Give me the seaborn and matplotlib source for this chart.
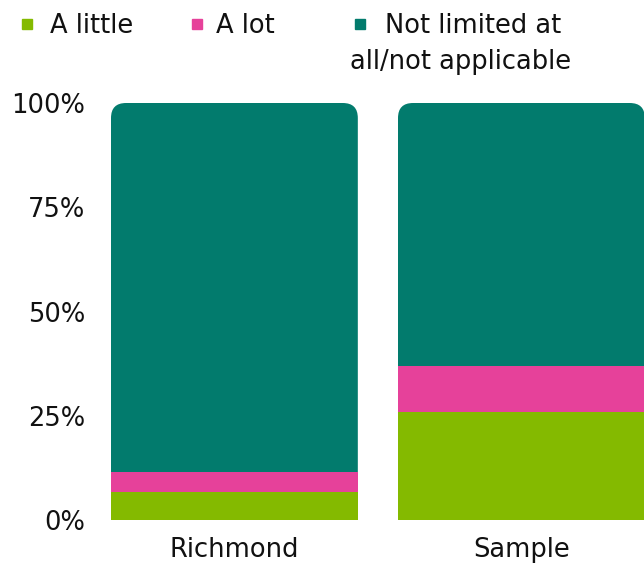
import matplotlib
matplotlib.use("Agg")
import matplotlib.pyplot as plt
import seaborn as sns
import pandas as pd
from matplotlib.patches import FancyBboxPatch
from matplotlib.transforms import IdentityTransform
from matplotlib.lines import Line2D

categories = ["Richmond", "Sample"]
a_little = [6.6, 25.8]
a_lot = [4.9, 11.2]
not_limited = [88.5, 63.0]
series_names = ["A little", "A lot", "Not limited at all/not applicable"]
colors = ["#84BA00", "#E6419A", "#027B6D"]
ytick_vals = [0, 25, 50, 75, 100]
ytick_labels = ["0%", "25%", "50%", "75%", "100%"]

sns.set_theme(style="white")
plt.rcParams["font.family"] = ["DejaVu Sans"]
FS = 18.5
TXT = "#111111"

df = pd.DataFrame({
    "cat": categories,
    "little": a_little,
    "lot": a_lot,
    "notlim": not_limited,
})
df["cum_lot"] = df["little"] + df["lot"]
df["cum_all"] = df["cum_lot"] + df["notlim"]

fig = plt.figure(figsize=(6.44, 5.65), dpi=100)
ax = fig.add_axes([111 / 644, 45 / 565, 1 - 111 / 644, 417 / 565])

W = 0.86
sns.barplot(data=df, x="cat", y="cum_all", color=colors[2], width=W, ax=ax,
            saturation=1, linewidth=0)
top_patches = list(ax.patches)
sns.barplot(data=df, x="cat", y="cum_lot", color=colors[1], width=W, ax=ax,
            saturation=1, linewidth=0)
sns.barplot(data=df, x="cat", y="little", color=colors[0], width=W, ax=ax,
            saturation=1, linewidth=0)

ax.set_xlim(-W / 2, -W / 2 + 533 / 287)
ax.set_ylim(0, 100)
ax.set_yticks(ytick_vals)
ax.set_yticklabels(ytick_labels)
ax.set_xlabel("")
ax.set_ylabel("")
for s in ax.spines.values():
    s.set_visible(False)
ax.tick_params(axis="y", length=0, pad=18.5, labelsize=FS, labelcolor=TXT)
ax.tick_params(axis="x", length=0, pad=12, labelsize=FS, labelcolor=TXT)

# rounded top corners
fig.canvas.draw()
r = 15
for p in top_patches:
    bb = p.get_window_extent()
    clip = FancyBboxPatch((bb.x0, bb.y0 - 3 * r), bb.width, bb.height + 3 * r,
                          boxstyle=f"round,pad=0,rounding_size={r}",
                          transform=IdentityTransform())
    p.set_clip_path(clip)

# legend: one entry per legend box, placed like the reference
legend_labels = ["A little", "A lot", "Not limited at"]
marker_left = [22, 192, 355]
gaps = [0.7, 0.55, 0.75]
for lab, c, xl, g in zip(legend_labels, colors, marker_left, gaps):
    h = Line2D([], [], marker="s", linestyle="none", markersize=7.5,
               markerfacecolor=c, markeredgecolor=c)
    leg = fig.legend([h], [lab], loc="center left",
                     bbox_to_anchor=((xl - 0.5) / 644, 1 - 26 / 565),
                     frameon=False, prop={"size": FS}, borderpad=0,
                     borderaxespad=0, handletextpad=g, handlelength=0.42)
    for t in leg.get_texts():
        t.set_color(TXT)
fig.text(350 / 644, 1 - 62 / 565, "all/not applicable", fontsize=FS,
         color=TXT, va="center", ha="left")

fig.savefig("out.png", dpi=100)
